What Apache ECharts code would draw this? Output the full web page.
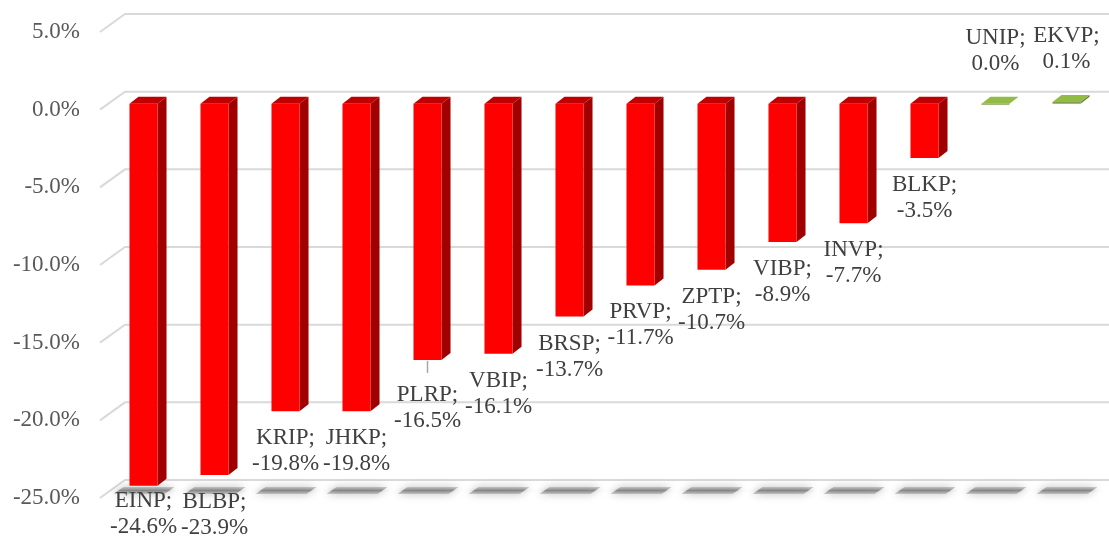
<!DOCTYPE html>
<html>
<head>
<meta charset="utf-8">
<script src="https://cdn.jsdelivr.net/npm/echarts@6/dist/echarts.min.js"></script>
<style>
  html, body { margin: 0; padding: 0; background: #fff; }
  #chart { width: 1109px; height: 536px; }
</style>
</head>
<body>
<div id="chart"></div>
<script>
// plant names and change vs previous period (%)
const categories = ['EINP', 'BLBP', 'KRIP', 'JHKP', 'PLRP', 'VBIP', 'BRSP', 'PRVP', 'ZPTP', 'VIBP', 'INVP', 'BLKP', 'UNIP', 'EKVP']
const values = [-24.6, -23.9, -19.8, -19.8, -16.5, -16.1, -13.7, -11.7, -10.7, -8.9, -7.7, -3.5, 0.0, 0.1]
const tickValues = [5, 0, -5, -10, -15, -20, -25]

// label nudges (px), a few labels were dragged around in the original
const labelShift = { EINP: -12, PLRP: 8 }

// fake 3d depth of the bars
const DX = 9
const DY = -7

const red = { front: '#ff0000', side: '#a00000', top: '#c00000' }
const green = { front: '#76923c', side: '#5f7a2c', top: '#92bc46' }

const chart = echarts.init(document.getElementById('chart'))

function renderWall(params, api) {
  const y = api.coord([0, api.value(1)])[1]
  const left = params.coordSys.x
  return {
    type: 'polyline',
    shape: { points: [[left - 8, y + 6], [left + 17, y - 12], [api.getWidth(), y - 12]] },
    style: { stroke: '#d9d9d9', lineWidth: 2, fill: null }
  }
}

function renderShadow(params, api) {
  const p = api.coord([api.value(0), -25])
  const x = p[0]
  const y = p[1]
  return {
    type: 'polygon',
    shape: { points: [[x - 30, y + 2], [x + 21, y + 2], [x + 31, y - 5], [x - 20, y - 5]] },
    style: {
      fill: new echarts.graphic.LinearGradient(0, 0, 0, 1, [
        { offset: 0, color: 'rgba(160,160,160,0.5)' },
        { offset: 0.5, color: 'rgba(125,125,125,0.85)' },
        { offset: 1, color: 'rgba(160,160,160,0.5)' }
      ]),
      shadowBlur: 8,
      shadowColor: 'rgba(110,110,110,0.9)'
    }
  }
}

function renderBar(params, api) {
  const v = api.value(1)
  const base = api.coord([api.value(0), 0])
  const end = api.coord([api.value(0), v])
  const w = api.size([1, 0])[0] * 0.395
  const xl = base[0] - w / 2
  const xr = base[0] + w / 2
  const yt = Math.min(base[1], end[1])
  const yb = Math.max(base[1], end[1])
  const c = v >= 0 ? green : red
  return {
    type: 'group',
    children: [
      {
        type: 'polygon',
        shape: { points: [[xr, yt], [xr + DX, yt + DY], [xr + DX, yb + DY], [xr, yb]] },
        style: { fill: c.side }
      },
      {
        type: 'rect',
        shape: { x: xl, y: yt, width: w, height: Math.max(yb - yt, 1) },
        style: { fill: c.front }
      },
      {
        type: 'polygon',
        shape: { points: [[xl, yt], [xl + DX, yt + DY], [xr + DX, yt + DY], [xr, yt]] },
        style: { fill: c.top }
      }
    ]
  }
}

function renderLabel(params, api) {
  const v = api.value(1)
  const name = categories[params.dataIndex]
  const base = api.coord([api.value(0), 0])
  const end = api.coord([api.value(0), v])
  const shift = labelShift[name] || 0
  const text = name + ';\n' + v.toFixed(1) + '%'
  const style = {
    text: text,
    fontFamily: 'Liberation Serif',
    fontSize: 23,
    lineHeight: 26,
    fill: '#404040',
    align: 'center'
  }
  const children = []
  if (v >= 0) {
    children.push({
      type: 'text',
      x: end[0],
      y: Math.min(base[1], end[1]) - 27 + shift,
      style: Object.assign(style, { verticalAlign: 'bottom' })
    })
  } else {
    children.push({
      type: 'text',
      x: end[0],
      y: end[1] + 14 + shift,
      style: Object.assign(style, { verticalAlign: 'top' })
    })
    if (shift > 0) {
      children.push({
        type: 'line',
        shape: { x1: end[0], y1: end[1] + 1, x2: end[0], y2: end[1] + shift + 5 },
        style: { stroke: '#a6a6a6', lineWidth: 1.5 }
      })
    }
  }
  return { type: 'group', children: children }
}

const barData = values.map((v, i) => [i, v])

chart.setOption({
  animation: false,
  grid: {
    left: 108,
    right: 7,
    top: 26,
    bottom: 44
  },
  xAxis: {
    type: 'category',
    data: categories,
    show: false
  },
  yAxis: {
    type: 'value',
    min: -25,
    max: 5,
    interval: 5,
    axisLine: { show: false },
    axisTick: { show: false },
    splitLine: { show: false },
    axisLabel: {
      margin: 28,
      verticalAlign: 'top',
      lineHeight: 12,
      fontFamily: 'Liberation Serif',
      fontSize: 23,
      color: '#595959',
      formatter: v => v.toFixed(1) + '%'
    }
  },
  series: [
    {
      type: 'custom',
      renderItem: renderWall,
      data: tickValues.map(v => [0, v]),
      silent: true,
      z: 1
    },
    {
      type: 'custom',
      renderItem: renderShadow,
      data: barData,
      silent: true,
      z: 2
    },
    {
      type: 'custom',
      renderItem: renderBar,
      data: barData,
      z: 3
    },
    {
      type: 'custom',
      renderItem: renderLabel,
      data: barData,
      silent: true,
      z: 4
    }
  ]
})
</script>
</body>
</html>
